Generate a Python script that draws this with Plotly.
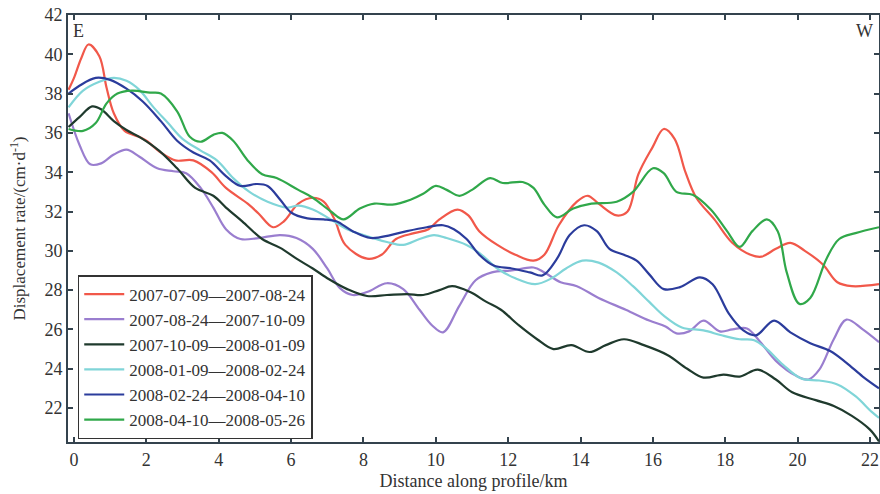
import plotly.graph_objects as go

labels = [
    "2007-07-09\u20142007-08-24",
    "2007-08-24\u20142007-10-09",
    "2007-10-09\u20142008-01-09",
    "2008-01-09\u20142008-02-24",
    "2008-02-24\u20142008-04-10",
    "2008-04-10\u20142008-05-26",
]
colors = ["#f1584a", "#9a7ecf", "#1f3a2d", "#80d5d8", "#2b3c9c", "#30a84a"]

red_x = [-0.15, 0, 0.2, 0.4, 0.7, 0.9, 1.1, 1.4, 1.8, 2.0, 2.4, 2.8, 3.3, 3.8, 4.2, 4.8, 5.1, 5.5, 5.8, 6.2, 6.6, 6.9, 7.2, 7.5, 8.1, 8.5, 8.9, 9.4, 9.8, 10.1, 10.6, 10.9, 11.2, 11.7, 12.2, 12.7, 13.0, 13.4, 13.9, 14.2, 14.5, 15.0, 15.3, 15.6, 16.0, 16.3, 16.6, 16.9, 17.2, 17.7, 18.2, 18.7, 19.0, 19.4, 19.8, 20.2, 20.7, 21.1, 21.5, 22.25]
red_y = [38.2, 38.8, 39.8, 40.5, 39.9, 38.3, 37.0, 36.1, 35.8, 35.6, 35.0, 34.6, 34.6, 34.0, 33.2, 32.4, 31.9, 31.2, 31.5, 32.4, 32.7, 32.5, 31.6, 30.3, 29.6, 29.8, 30.6, 30.9, 31.1, 31.6, 32.1, 31.8, 31.0, 30.3, 29.8, 29.5, 29.8, 31.3, 32.5, 32.8, 32.4, 31.8, 32.0, 33.9, 35.3, 36.2, 35.7, 34.0, 32.7, 31.6, 30.4, 29.8, 29.7, 30.1, 30.4, 30.0, 29.3, 28.4, 28.2, 28.3]

purple_x = [-0.15, 0.15, 0.45, 0.75, 1.1, 1.45, 1.8, 2.3, 2.75, 3.1, 3.5, 3.85, 4.2, 4.6, 5.1, 5.7, 6.15, 6.6, 7.0, 7.35, 7.7, 8.1, 8.65, 9.1, 9.55, 9.9, 10.2, 10.65, 11.1, 11.55, 12.1, 12.7, 13.0, 13.45, 13.9, 14.5, 15.25, 15.9, 16.35, 16.65, 17.0, 17.4, 17.85, 18.2, 18.6, 18.95, 19.4, 19.95, 20.3, 20.6, 21.0, 21.35, 21.8, 22.25]
purple_y = [37.0, 35.4, 34.4, 34.45, 34.9, 35.15, 34.8, 34.2, 34.05, 33.95, 33.2, 32.2, 31.1, 30.6, 30.65, 30.8, 30.65, 30.1, 29.1, 28.1, 27.75, 27.9, 28.35, 28.05, 27.0, 26.2, 25.85, 27.2, 28.5, 28.9, 29.0, 29.15, 28.9, 28.4, 28.2, 27.6, 27.0, 26.45, 26.15, 25.8, 25.9, 26.45, 25.9, 26.0, 26.05, 25.4, 24.4, 23.65, 23.45, 23.95, 25.5, 26.5, 26.0, 25.35]

black_x = [-0.15, 0.15, 0.5, 0.75, 1.1, 1.45, 1.85, 2.35, 2.85, 3.35, 3.85, 4.2, 4.65, 5.2, 5.7, 6.15, 6.6, 7.05, 7.55, 8.1, 8.65, 9.2, 9.65, 10.1, 10.45, 10.95, 11.4, 11.8, 12.3, 12.8, 13.25, 13.75, 14.25, 14.7, 15.2, 15.75, 16.4, 16.95, 17.4, 17.95, 18.4, 18.9, 19.4, 19.85, 20.5, 21.0, 21.5, 22.0, 22.25]
black_y = [36.3, 36.8, 37.35, 37.2, 36.6, 36.15, 35.75, 35.1, 34.2, 33.2, 32.8, 32.2, 31.5, 30.6, 30.15, 29.6, 29.1, 28.55, 28.05, 27.7, 27.75, 27.8, 27.75, 28.0, 28.2, 27.9, 27.4, 27.0, 26.2, 25.5, 25.0, 25.2, 24.85, 25.2, 25.5, 25.2, 24.7, 24.0, 23.55, 23.7, 23.6, 23.95, 23.45, 22.8, 22.4, 22.1, 21.6, 20.9, 20.3]

cyan_x = [-0.15, 0.25, 0.7, 1.1, 1.45, 1.8, 2.2, 2.6, 3.0, 3.5, 3.95, 4.4, 4.85, 5.35, 5.9, 6.2, 6.6, 7.05, 7.55, 8.0, 8.65, 9.1, 9.55, 9.95, 10.3, 10.85, 11.2, 11.7, 12.2, 12.75, 13.2, 13.6, 14.05, 14.5, 15.0, 15.45, 15.9, 16.3, 16.8, 17.4, 17.9, 18.4, 18.8, 19.15, 19.6, 20.1, 20.6, 21.1, 21.6, 22.05, 22.25]
cyan_y = [37.3, 38.15, 38.6, 38.8, 38.65, 38.2, 37.3, 36.5, 35.7, 35.1, 34.6, 33.7, 33.0, 32.5, 32.2, 32.3, 32.1, 31.65, 31.1, 30.8, 30.45, 30.3, 30.6, 30.8, 30.65, 30.3, 29.9, 29.1, 28.6, 28.3, 28.6, 29.1, 29.5, 29.4, 28.9, 28.2, 27.4, 26.7, 26.1, 25.95, 25.7, 25.5, 25.45, 25.0, 24.2, 23.5, 23.4, 23.2, 22.6, 21.8, 21.5]

blue_x = [-0.15, 0.15, 0.6, 1.0, 1.45, 1.9, 2.4, 2.85, 3.3, 3.75, 4.2, 4.6, 5.05, 5.35, 5.7, 6.0, 6.45, 6.9, 7.25, 7.7, 8.2, 8.75, 9.2, 9.75, 10.2, 10.5, 10.85, 11.2, 11.6, 12.1, 12.6, 12.95, 13.35, 13.7, 14.1, 14.45, 14.8, 15.2, 15.55, 15.9, 16.3, 16.75, 17.3, 17.65, 18.1, 18.5, 18.85, 19.35, 19.8, 20.35, 20.9, 21.35, 21.8, 22.25]
blue_y = [38.0, 38.4, 38.8, 38.7, 38.25, 37.6, 36.6, 35.6, 35.0, 34.6, 33.8, 33.3, 33.4, 33.3, 32.6, 31.95, 31.65, 31.6, 31.5, 31.0, 30.65, 30.8, 31.0, 31.2, 31.3, 31.1, 30.6, 29.8, 29.25, 29.1, 28.9, 28.75, 29.6, 30.8, 31.3, 31.0, 30.1, 29.8, 29.5, 28.8, 28.05, 28.15, 28.65, 28.3, 26.8, 25.95, 25.7, 26.45, 25.85, 25.3, 24.9, 24.3, 23.6, 23.0]

green_x = [-0.15, 0.25, 0.6, 0.9, 1.2, 1.6, 2.1, 2.4, 2.85, 3.2, 3.5, 3.85, 4.1, 4.4, 4.8, 5.2, 5.6, 6.2, 6.6, 7.1, 7.45, 7.9, 8.3, 8.8, 9.3, 9.65, 10.0, 10.3, 10.65, 11.0, 11.5, 11.85, 12.4, 12.7, 13.0, 13.35, 13.8, 14.3, 15.0, 15.45, 16.0, 16.3, 16.65, 17.1, 17.6, 18.05, 18.4, 18.75, 19.15, 19.45, 19.7, 20.05, 20.35, 20.8, 21.15, 21.6, 22.25]
green_y = [36.2, 36.1, 36.5, 37.5, 38.0, 38.15, 38.05, 38.0, 37.1, 35.8, 35.55, 35.9, 36.0, 35.6, 34.6, 33.9, 33.7, 33.1, 32.7, 32.0, 31.6, 32.15, 32.4, 32.35, 32.6, 32.9, 33.3, 33.1, 32.8, 33.1, 33.7, 33.45, 33.5, 33.2, 32.35, 31.7, 32.15, 32.4, 32.5, 33.0, 34.2, 33.95, 33.0, 32.85, 32.1, 31.0, 30.2, 31.0, 31.6, 31.0, 28.9, 27.3, 27.6, 29.6, 30.6, 30.9, 31.2]

x_ticks = [0, 2, 4, 6, 8, 10, 12, 14, 16, 18, 20, 22]
y_ticks = [22, 24, 26, 28, 30, 32, 34, 36, 38, 40, 42]

series = [(red_x, red_y), (purple_x, purple_y), (black_x, black_y),
          (cyan_x, cyan_y), (blue_x, blue_y), (green_x, green_y)]

FONT = "Liberation Serif"
AX = "#34434e"
TXT = "#333333"

fig = go.Figure()
for (xs, ys), name, col in zip(series, labels, colors):
    fig.add_trace(go.Scatter(
        x=xs, y=ys, name=name, mode="lines",
        line=dict(color=col, width=2.2, shape="spline", smoothing=1.0),
    ))

axis_common = dict(
    showgrid=False, zeroline=False, showline=True, linecolor=AX, linewidth=2,
    mirror="ticks", ticks="inside", ticklen=5, tickwidth=1.5, tickcolor=AX,
    tickfont=dict(family=FONT, size=18, color=TXT), automargin=False,
)
fig.update_xaxes(range=[-0.166, 22.25], tickvals=x_ticks,
                 title=dict(text="Distance along profile/km", standoff=6,
                            font=dict(family=FONT, size=18, color=TXT)),
                 **axis_common)
fig.update_yaxes(range=[20.27, 42], tickvals=y_ticks,
                 title=dict(text="Displacement rate/(cm\u00b7d<sup>-1</sup>)", standoff=14,
                            font=dict(family=FONT, size=17, color=TXT)),
                 **axis_common)

fig.add_annotation(x=0, y=1, xref="paper", yref="paper", text="E", showarrow=False,
                   xanchor="left", yanchor="top", xshift=3, yshift=-4,
                   font=dict(family=FONT, size=18, color=TXT))
fig.add_annotation(x=1, y=1, xref="paper", yref="paper", text="W", showarrow=False,
                   xanchor="right", yanchor="top", xshift=-4, yshift=-4,
                   font=dict(family=FONT, size=18, color=TXT))

fig.update_layout(
    width=880, height=494,
    margin=dict(l=68, r=1, t=15, b=52),
    paper_bgcolor="white", plot_bgcolor="white",
    showlegend=True,
    legend=dict(x=0.012, y=0.391, xanchor="left", yanchor="top",
                bgcolor="white", bordercolor=TXT, borderwidth=1.5,
                font=dict(family=FONT, size=17, color=TXT),
                itemwidth=40),
)

fig.write_html("out.html", config={"displayModeBar": False},
               post_script="document.body.style.margin='0';document.body.style.overflow='hidden';")
